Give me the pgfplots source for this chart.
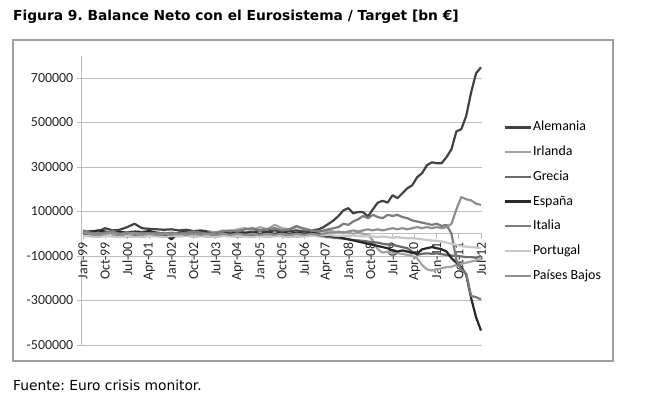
\documentclass[border=0pt]{standalone}
\usepackage{fontspec}
\usepackage{pgfplots}
\pgfplotsset{compat=1.18}
\usepackage{pgfplotstable}
\setmainfont{Carlito}
\newfontfamily\verd{DejaVu Sans}
\frenchspacing
\definecolor{cDE}{HTML}{424242}
\definecolor{cIE}{HTML}{A3A3A3}
\definecolor{cGR}{HTML}{6B6B6B}
\definecolor{cES}{HTML}{282828}
\definecolor{cIT}{HTML}{7C7C7C}
\definecolor{cPT}{HTML}{C8C8C8}
\definecolor{cNL}{HTML}{8F8F8F}
\definecolor{gridc}{HTML}{BEBEBE}

\pgfplotstableread{
m DE IE GR ES IT PT NL
0 5000 0 -5000 10000 15000 -10000 5000
3 12000 5000 -8000 8000 5000 -12000 0
6 10000 8000 -5000 15000 0 -15000 -5000
9 25000 5000 -10000 10000 5000 -10000 0
12 15000 10000 -8000 5000 10000 -12000 5000
15 18000 5000 -10000 8000 0 -15000 -5000
18 30000 0 -12000 5000 5000 -10000 0
21 45000 5000 -10000 10000 0 -15000 5000
24 25000 0 -12000 8000 5000 -12000 -5000
27 22000 5000 -10000 12000 0 -10000 0
30 20000 0 -8000 5000 5000 -12000 -5000
33 18000 5000 -10000 0 0 -15000 0
36 20000 0 -12000 -25000 5000 -10000 -5000
39 15000 5000 -10000 5000 0 -12000 0
42 18000 0 -8000 8000 5000 -10000 -5000
45 12000 5000 -12000 5000 10000 -12000 0
48 15000 0 -10000 10000 5000 -10000 -5000
51 10000 10000 -12000 5000 0 -12000 0
54 5000 5000 -10000 0 5000 -15000 -5000
57 10000 15000 -8000 5000 10000 -10000 0
60 5000 10000 -10000 0 15000 -12000 -5000
63 10000 20000 -12000 5000 10000 -10000 0
66 5000 25000 -10000 0 20000 -12000 -5000
69 10000 15000 -8000 5000 25000 -15000 0
72 15000 30000 -10000 0 15000 -10000 -5000
75 10000 20000 -12000 5000 20000 -12000 0
78 15000 40000 -10000 0 25000 -10000 -5000
81 10000 25000 -8000 5000 15000 -12000 0
84 12000 20000 -10000 0 20000 -15000 -5000
87 15000 30000 -12000 5000 35000 -10000 0
90 10000 25000 -10000 0 20000 -12000 -5000
93 15000 15000 -8000 5000 15000 -10000 0
96 20000 10000 -10000 0 10000 -8000 -5000
98 30000 10000 -12000 -5000 15000 -5000 0
100 45000 15000 -15000 -8000 20000 -5000 5000
102 60000 10000 -18000 -12000 25000 -8000 5000
104 80000 5000 -20000 -15000 30000 -10000 10000
106 105000 8000 -22000 -20000 45000 -8000 5000
108 115000 5000 -25000 -25000 40000 -10000 10000
110 92000 0 -28000 -30000 55000 -8000 15000
112 98000 5000 -30000 -35000 65000 -10000 10000
114 97000 0 -32000 -40000 80000 -12000 15000
116 78000 -5000 -35000 -45000 70000 -10000 20000
118 110000 -30000 -38000 -50000 85000 -12000 15000
120 140000 -70000 -40000 -55000 75000 -15000 20000
122 148000 -85000 -45000 -60000 70000 -12000 15000
124 140000 -80000 -48000 -65000 85000 -15000 20000
126 173000 -85000 -50000 -75000 80000 -18000 25000
128 160000 -88000 -55000 -80000 85000 -15000 20000
130 182000 -90000 -60000 -75000 75000 -18000 25000
132 204000 -95000 -65000 -80000 70000 -20000 20000
134 218000 -100000 -80000 -85000 60000 -20000 25000
136 254000 -110000 -95000 -90000 55000 -22000 30000
138 272000 -140000 -90000 -70000 50000 -25000 25000
140 308000 -160000 -88000 -65000 45000 -28000 30000
142 321000 -165000 -90000 -60000 40000 -30000 25000
144 317000 -160000 -88000 -65000 45000 -32000 30000
146 317000 -155000 -92000 -70000 35000 -35000 25000
148 345000 -150000 -95000 -80000 40000 -40000 30000
150 380000 -148000 -98000 -110000 0 -45000 45000
152 460000 -140000 -100000 -130000 -120000 -50000 110000
154 470000 -135000 -102000 -150000 -160000 -55000 165000
156 530000 -130000 -105000 -185000 -180000 -58000 155000
158 636000 -125000 -105000 -290000 -280000 -60000 150000
160 721000 -120000 -108000 -375000 -285000 -62000 135000
162 748000 -115000 -100000 -435000 -295000 -65000 130000
}\datatable

\begin{document}
\begin{tikzpicture}
\fill[white] (0pt,0pt) rectangle (650pt,-399pt);
\path[use as bounding box] (0pt,0pt) rectangle (650pt,-399pt);
\draw[color=gray!75, line width=1.2pt] (13pt,-40pt) rectangle (613pt,-361pt);
\node[anchor=base west, inner sep=0pt, font=\verd\bfseries\fontsize{13.8}{16}\selectfont] at (13pt,-20pt) {Figura 9. Balance Neto con el Eurosistema / Target [bn €]};
\node[anchor=base west, inner sep=0pt, font=\verd\fontsize{13.8}{16}\selectfont] at (13pt,-390pt) {Fuente: Euro crisis monitor.};
\begin{axis}[
  scale only axis, width=400.4pt, height=289.25pt,
  at={(81.8pt,-345pt)}, anchor=south west,
  xmin=-0.5, xmax=162.5, ymin=-500000, ymax=800000,
  axis x line*=middle, axis y line*=left,
  axis line style={draw=gridc, line width=0.9pt},
  ytick={-500000,-300000,-100000,100000,300000,500000,700000},
  yticklabels={-500000,-300000,-100000,100000,300000,500000,700000},
  ymajorgrids, grid style={draw=gridc, line width=0.9pt},
  xtick={0,9,...,162},
  xticklabels={Jan-99,Oct-99,Jul-00,Apr-01,Jan-02,Oct-02,Jul-03,Apr-04,Jan-05,Oct-05,Jul-06,Apr-07,Jan-08,Oct-08,Jul-09,Apr-10,Jan-11,Oct-11,Jul-12},
  xticklabel style={rotate=90, anchor=east},
  tick align=outside, major tick length=5pt,
  tick style={draw=gridc, line width=0.9pt},
  ticklabel style={font=\fontsize{13.9}{16}\selectfont, text=black!85},
  scaled y ticks=false,
  legend cell align=left,
  legend style={at={(1.0535,0.7788)}, anchor=north west, draw=none, fill=none,
    font=\fontsize{13.9}{16}\selectfont, row sep=9.7pt, inner sep=0pt,
    nodes={inner sep=1pt, text height=10pt, text depth=3pt}},
  legend image code/.code={\draw[#1] (0pt,0pt) -- (26pt,0pt);},
  every axis plot/.append style={line width=2.2pt, line join=round},
]
\addplot[cDE] table[x=m,y=DE]{\datatable};
\addlegendentry{Alemania}
\addplot[cIE] table[x=m,y=IE]{\datatable};
\addlegendentry{Irlanda}
\addplot[cGR] table[x=m,y=GR]{\datatable};
\addlegendentry{Grecia}
\addplot[cES] table[x=m,y=ES]{\datatable};
\addlegendentry{España}
\addplot[cIT] table[x=m,y=IT]{\datatable};
\addlegendentry{Italia}
\addplot[cPT] table[x=m,y=PT]{\datatable};
\addlegendentry{Portugal}
\addplot[cNL] table[x=m,y=NL]{\datatable};
\addlegendentry{Países Bajos}
\end{axis}
\end{tikzpicture}
\end{document}
